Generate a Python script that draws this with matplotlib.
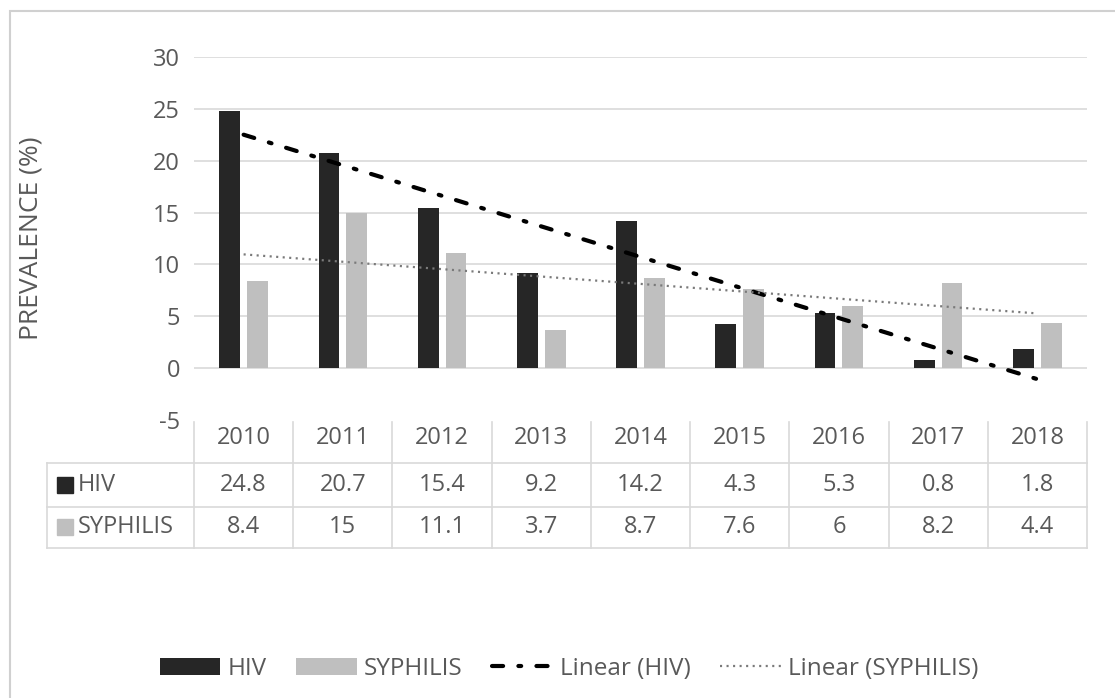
import numpy as np
import matplotlib
matplotlib.use("Agg")
import matplotlib.pyplot as plt
from matplotlib.patches import Rectangle
from matplotlib.lines import Line2D
from matplotlib.transforms import blended_transform_factory

plt.rcParams['font.family'] = ['Open Sans', 'DejaVu Sans']
plt.rcParams['lines.scale_dashes'] = False

years = ['2010', '2011', '2012', '2013', '2014', '2015', '2016', '2017', '2018']
hiv = [24.8, 20.7, 15.4, 9.2, 14.2, 4.3, 5.3, 0.8, 1.8]
syphilis = [8.4, 15, 11.1, 3.7, 8.7, 7.6, 6, 8.2, 4.4]
hiv_table = ['24.8', '20.7', '15.4', '9.2', '14.2', '4.3', '5.3', '0.8', '1.8']
syph_table = ['8.4', '15', '11.1', '3.7', '8.7', '7.6', '6', '8.2', '4.4']
yticks = [-5, 0, 5, 10, 15, 20, 25, 30]

W, H = 1115, 698
fig = plt.figure(figsize=(W / 100, H / 100), dpi=100)
TXT = '#595959'
GRID = '#d9d9d9'
C_HIV = '#262626'
C_SYP = '#bfbfbf'
FS = 17

def fy(py):
    return 1 - py / H

def fx(px):
    return px / W

# outer border
fig.patches.append(Rectangle((fx(10), fy(720)), 1.2, fy(11) - fy(720), transform=fig.transFigure,
                             fill=False, edgecolor='#d0d0d0', lw=1.5))

ax = fig.add_axes([fx(194), fy(420), fx(1087) - fx(194), fy(57) - fy(420)])
x = np.arange(len(years))
ax.set_xlim(-0.5, len(years) - 0.5)
ax.set_ylim(-5, 30)
for s in ax.spines.values():
    s.set_visible(False)
ax.set_xticks([])
ax.set_yticks(yticks)
ax.set_yticklabels([str(t) for t in yticks])
ax.tick_params(axis='y', length=0, pad=10, labelsize=FS, labelcolor=TXT)
for t in yticks:
    if t >= 0:
        ax.axhline(t, color=GRID, lw=1.2, zorder=0)

w = 0.21
b1 = ax.bar(x - 0.14, hiv, w, color=C_HIV, zorder=2, label='HIV')
b2 = ax.bar(x + 0.14, syphilis, w, color=C_SYP, zorder=2, label='SYPHILIS')

ph = np.polyfit(x, hiv, 1)
ps = np.polyfit(x, syphilis, 1)
l1, = ax.plot(x, np.polyval(ph, x), color='black', lw=3, dashes=(8, 11, 2, 11), zorder=3,
              label='Linear (HIV)', dash_capstyle='round')
l2, = ax.plot(x, np.polyval(ps, x), color='#7a7a7a', lw=1.6, dashes=(1.5, 3.2), zorder=3,
              label='Linear (SYPHILIS)')

fig.text(fx(31), fy(238), 'PREVALENCE (%)', rotation=90, ha='center', va='center',
         fontsize=19, color=TXT)

# data table
tr = blended_transform_factory(ax.transData, fig.transFigure)
trf = fig.transFigure
lk = dict(color=GRID, lw=1.2, clip_on=False)
y_top, y_r1, y_r2, y_bot = 422, 463, 507, 548
for i in range(len(years) + 1):
    ax.add_line(Line2D([i - 0.5, i - 0.5], [fy(y_top), fy(y_bot)], transform=tr, **lk))
for yy in (y_r1, y_r2, y_bot):
    fig.add_artist(Line2D([fx(47), fx(1087)], [fy(yy), fy(yy)], transform=trf, color=GRID, lw=1.2))
fig.add_artist(Line2D([fx(47), fx(47)], [fy(y_r1), fy(y_bot)], transform=trf, color=GRID, lw=1.2))

for i, yr in enumerate(years):
    ax.text(i, fy(438), yr, transform=tr, ha='center', va='center', fontsize=FS, color=TXT)
    ax.text(i, fy(485), hiv_table[i], transform=tr, ha='center', va='center', fontsize=FS, color=TXT)
    ax.text(i, fy(527), syph_table[i], transform=tr, ha='center', va='center', fontsize=FS, color=TXT)

for yy, c, lab in ((485, C_HIV, 'HIV'), (527, C_SYP, 'SYPHILIS')):
    fig.patches.append(Rectangle((fx(57), fy(yy + 8)), fx(16), fy(0) - fy(16), transform=trf,
                                 color=c))
    fig.text(fx(78), fy(yy), lab, ha='left', va='center', fontsize=FS, color=TXT)

leg = fig.legend([b1, b2, l1, l2], ['HIV', 'SYPHILIS', 'Linear (HIV)', 'Linear (SYPHILIS)'],
                 loc='center', bbox_to_anchor=(fx(569), fy(669)), ncol=4, frameon=False,
                 fontsize=17.5, handlelength=2.5, handleheight=0.7, handletextpad=0.3,
                 columnspacing=1.2, labelcolor=TXT)

fig.savefig('out.png', dpi=100)
